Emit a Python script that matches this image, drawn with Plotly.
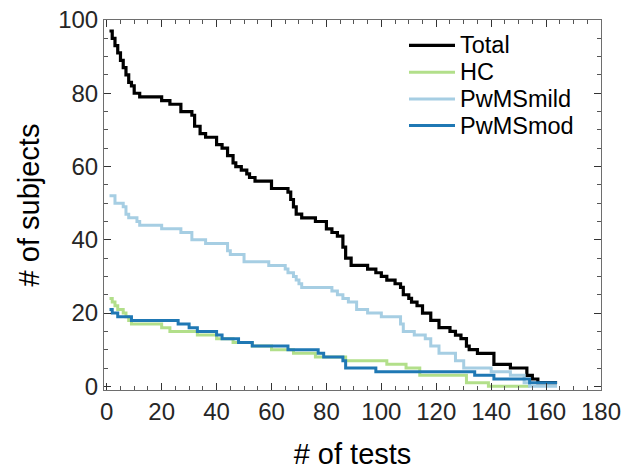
import plotly.graph_objects as go

# Step data: x = # of tests where value changes, y = # of subjects from that x on
total_x = [1, 2, 3, 4, 5, 6, 7, 8, 9, 10, 12, 20, 23, 27, 31, 32, 34, 36, 40, 42, 44, 46, 47, 49, 51, 52, 54,
           60, 66, 67, 68, 69, 71, 76, 80, 82, 84, 85, 86, 87, 89, 95, 98, 100, 102, 105, 107, 108, 110, 111,
           113, 115, 118, 121, 125, 127, 129, 131, 132, 135, 141, 147, 153, 155, 157, 164]
total_y = [97, 95, 93, 91, 89, 87, 85, 83, 82, 80, 79, 78, 77, 75, 74, 71, 69, 68, 66, 65, 63, 61, 60, 59, 58, 57, 56,
           54, 53, 51, 49, 47, 46, 45, 43, 42, 41, 41, 38, 35, 33, 32, 31, 30, 29, 28, 27, 25, 24, 23,
           22, 20, 18, 16, 15, 14, 13, 11, 10, 9, 6, 5, 3, 2, 1, 1]

hc_x = [1, 2, 3, 4, 6, 7, 8, 9, 20, 23, 33, 40, 46, 53, 60, 68, 76, 87, 102, 109, 114, 131, 139, 154]
hc_y = [24, 23, 22, 21, 20, 19, 18, 17, 16, 15, 14, 13, 12, 11, 10, 9, 8, 7, 6, 5, 3, 1, 0, 0]

mild_x = [1, 3, 6, 7, 8, 11, 12, 20, 27, 31, 36, 44, 45, 50, 59, 65, 66, 68, 69, 70, 71, 82, 84, 86, 88, 91, 95,
          100, 107, 108, 112, 116, 118, 121, 127, 130, 140, 147, 152, 154, 164]
mild_y = [52, 50, 49, 47, 46, 45, 44, 43, 42, 40, 39, 37, 36, 34, 33, 32, 31, 30, 29, 28, 27, 26, 25, 24, 23, 21, 20,
          19, 17, 15, 14, 13, 11, 9, 7, 5, 4, 3, 1, 0, 0]

mod_x = [1, 2, 4, 9, 26, 30, 33, 40, 42, 48, 53, 66, 77, 79, 86, 87, 98, 134, 141, 154, 164]
mod_y = [21, 20, 19, 18, 17, 16, 15, 14, 13, 12, 11, 10, 9, 8, 7, 5, 4, 3, 2, 1, 1]

x_ticks = [0, 20, 40, 60, 80, 100, 120, 140, 160, 180]
y_ticks = [0, 20, 40, 60, 80, 100]

series_names = ["Total", "HC", "PwMSmild", "PwMSmod"]
series_x = [total_x, hc_x, mild_x, mod_x]
series_y = [total_y, hc_y, mild_y, mod_y]
series_colors = ["#000000", "#b2df8a", "#a6cee3", "#1f78b4"]
series_widths = [3.2, 3, 3, 3]

FONT = "Liberation Sans, Arial, Helvetica, sans-serif"

fig = go.Figure()
for name, xs, ys, col, w in zip(series_names, series_x, series_y, series_colors, series_widths):
    fig.add_trace(go.Scatter(x=xs, y=ys, mode="lines", name=name, showlegend=False,
                             line=dict(color=col, width=w, shape="hv")))

axis_common = dict(
    showgrid=False, zeroline=False, showline=True, linecolor="#6e6e6e", linewidth=1,
    mirror="ticks", ticks="inside", ticklen=7, tickwidth=1, tickcolor="#333333",
    tickfont=dict(family=FONT, size=24, color="#262626"),
    minor=dict(ticks="inside", ticklen=4, tickwidth=1, tickcolor="#555555", dtick=5, showgrid=False),
    automargin=False,
)

fig.update_xaxes(range=[-1, 180], tickvals=x_ticks, ticktext=[str(v) for v in x_ticks],
                 title=dict(text="# of tests", font=dict(family=FONT, size=29, color="#000000"), standoff=25),
                 **axis_common)
fig.update_yaxes(range=[-1, 100], tickvals=y_ticks, ticktext=[str(v) for v in y_ticks],
                 title=dict(text="# of subjects", font=dict(family=FONT, size=29, color="#000000"), standoff=10),
                 **axis_common)

# Manual legend (layout only): line samples + labels in paper coordinates
plot_l, plot_r, plot_t, plot_b = 104, 601, 19.5, 390.5
def px_x(p):
    return (p - plot_l) / (plot_r - plot_l)
def px_y(p):
    return (plot_b - p) / (plot_b - plot_t)

for i, (name, col, w) in enumerate(zip(series_names, series_colors, series_widths)):
    yp = 45 + 26.8 * i
    fig.add_shape(type="line", xref="paper", yref="paper",
                  x0=px_x(409), x1=px_x(455), y0=px_y(yp), y1=px_y(yp),
                  line=dict(color=col, width=w))
    fig.add_annotation(xref="paper", yref="paper", x=px_x(458), y=px_y(yp),
                       xanchor="left", yanchor="middle", text=name, showarrow=False,
                       font=dict(family=FONT, size=23.5, color="#000000"))

fig.update_layout(
    width=636, height=470,
    margin=dict(l=104, r=35, t=19.5, b=79.5),
    paper_bgcolor="white", plot_bgcolor="white",
    showlegend=False,
)

fig.write_html("out.html")
